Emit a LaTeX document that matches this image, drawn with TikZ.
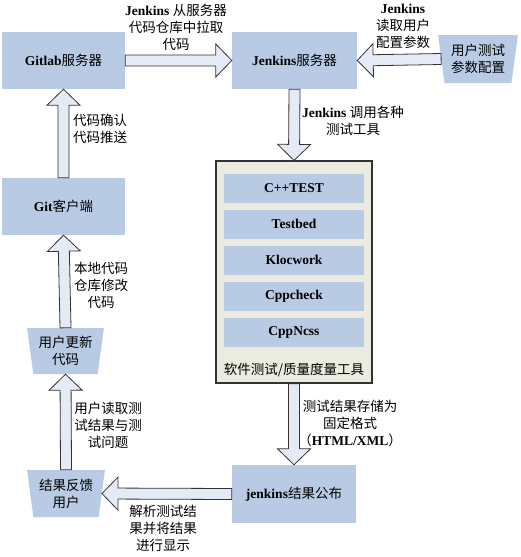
\documentclass[tikz,border=0pt]{standalone}
\usepackage{fontspec}
\setmainfont{Liberation Serif}
\newfontfamily\cjk{Noto Sans CJK SC}
\usetikzlibrary{shapes.geometric,calc}

\definecolor{boxblue}{RGB}{185,203,228}
\definecolor{arrowfill}{RGB}{228,235,246}
\definecolor{toolgray}{RGB}{235,235,224}
\newcommand{\zh}[1]{{\cjk\mdseries #1}}

\tikzset{
  every node/.style={font=\fontsize{13.5}{17}\selectfont},
  box/.style={fill=boxblue, minimum width=123, minimum height=57, inner sep=0,
    font=\fontsize{13.5}{17}\selectfont\bfseries},
  trap/.style={trapezium, trapezium angle=80, shape border rotate=180,
    trapezium stretches=true, fill=boxblue, minimum width=78, minimum height=47,
    inner sep=0, align=center},
  lbl/.style={align=center, inner sep=0},
  fat/.style={draw=black!80, fill=arrowfill, line width=0.8pt,
    to path={let \p1=(\tikztostart), \p2=(\tikztotarget),
      \n1={veclen(\x2-\x1,\y2-\y1)}, \n2={(\x2-\x1)/\n1}, \n3={(\y2-\y1)/\n1} in
      ({\x1-5.5*\n3},{\y1+5.5*\n2}) -- ({\x2-16*\n2-5.5*\n3},{\y2-16*\n3+5.5*\n2})
      -- ({\x2-16*\n2-16.5*\n3},{\y2-16*\n3+16.5*\n2}) -- (\p2)
      -- ({\x2-16*\n2+16.5*\n3},{\y2-16*\n3-16.5*\n2})
      -- ({\x2-16*\n2+5.5*\n3},{\y2-16*\n3-5.5*\n2})
      -- ({\x1+5.5*\n3},{\y1-5.5*\n2}) -- cycle}}
}

\begin{document}
\begin{tikzpicture}[x=1pt,y=-1pt]

\useasboundingbox (0,0) rectangle (520,557);

\node[box] (gitlab) at (63.5,60.5) {Gitlab\zh{服务器}};
\node[box, minimum width=125] (jenkins) at (294.5,60.5) {Jenkins\zh{服务器}};
\node[trap, minimum width=80, minimum height=48] (param) at (478,59) {\zh{用户测试}\\\zh{参数配置}};

\node[draw=black!80, line width=1.2pt, fill=toolgray, minimum width=156, minimum height=222] (tools) at (294,272) {};
\foreach \tname [count=\i] in {C++TEST,Testbed,Klocwork,Cppcheck,CppNcss}
  \node[box, minimum width=140, minimum height=29] (tool\i) at (294,152+36*\i) {\tname};
\node[lbl] (toollbl) at (294,370) {\zh{软件测试/质量度量工具}};

\node[box, minimum width=124, minimum height=58] (result) at (294,494) {jenkins\zh{结果公布}};
\node[trap] (feedback) at (66,493.5) {\zh{结果反馈}\\\zh{用户}};
\node[trap, minimum width=77, minimum height=46] (update) at (65.5,351) {\zh{用户更新}\\\zh{代码}};
\node[box] (gitclient) at (63.5,206.5) {Git\zh{客户端}};

\draw[fat] (gitlab.east) to (jenkins.west);
\draw[fat] (param.west) to (jenkins.east);
\draw[fat] (jenkins.south) to (tools.north);
\draw[fat] (tools.south) to (result.north);
\draw[fat] (result.west) to (feedback.east);
\draw[fat] (feedback.north) to (update.south);
\draw[fat] (update.north) to (gitclient.south);
\draw[fat] (gitclient.north) to (gitlab.south);

\node[lbl] (pull) at (176,27) {\textbf{Jenkins} \zh{从服务器}\\\zh{代码仓库中拉取}\\\zh{代码}};
\node[lbl] (read) at (403,26) {\textbf{Jenkins}\\\zh{读取用户}\\\zh{配置参数}};
\node[lbl] (call) at (353,121) {\textbf{Jenkins} \zh{调用各种}\\\zh{测试工具}};
\node[lbl, anchor=west, align=left] (push) at (73,129) {\zh{代码确认}\\\zh{代码推送}};
\node[lbl] (local) at (101,285) {\zh{本地代码}\\\zh{仓库修改}\\\zh{代码}};
\node[lbl] (readres) at (108,425) {\zh{用户读取测}\\\zh{试结果与测}\\\zh{试问题}};
\node[lbl] (parse) at (163,528) {\zh{解析测试结}\\\zh{果并将结果}\\\zh{进行显示}};
\node[lbl] (store) at (350,423) {\zh{测试结果存储为}\\\zh{固定格式}\\\zh{（}\textbf{HTML/XML}\zh{）}};

\end{tikzpicture}
\end{document}
